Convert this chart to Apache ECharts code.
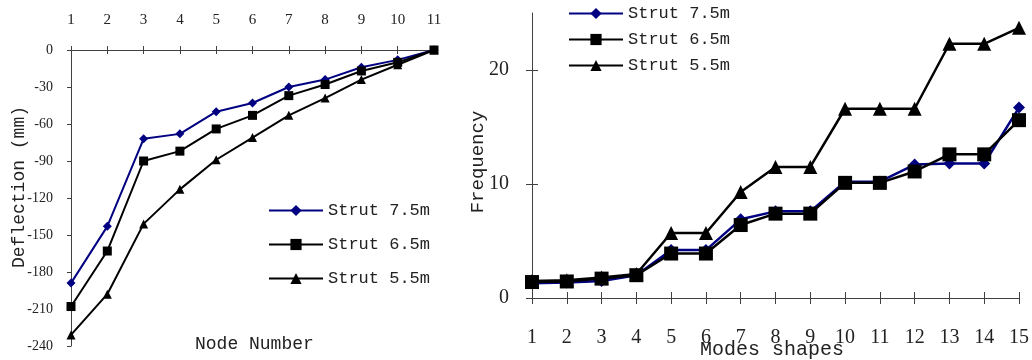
<!DOCTYPE html>
<html><head><meta charset="utf-8">
<script src="https://cdn.jsdelivr.net/npm/echarts@6/dist/echarts.min.js"></script>
<style>html,body{margin:0;padding:0;background:#fff}#c{width:1032px;height:360px}</style>
</head><body><div id="c"></div>
<script>
const nodeLabels = ['1','2','3','4','5','6','7','8','9','10','11'];
const defl75 = [-189, -143, -72, -68, -50, -43, -30, -24, -14, -8, 0];
const defl65 = [-208, -163, -90, -82, -64, -53, -37, -28, -17, -10, 0];
const defl55 = [-231, -198, -141, -113, -89, -71, -53, -39, -24, -12, 0];

const modeLabels = ['1','2','3','4','5','6','7','8','9','10','11','12','13','14','15'];
const freq75 = [1.3, 1.35, 1.5, 2.0, 4.2, 4.2, 6.9, 7.6, 7.6, 10.2, 10.2, 11.7, 11.8, 11.8, 16.7];
const freq65 = [1.4, 1.45, 1.7, 2.0, 3.9, 3.9, 6.4, 7.4, 7.4, 10.1, 10.1, 11.1, 12.6, 12.6, 15.6];
const freq55 = [1.5, 1.55, 1.8, 2.1, 5.7, 5.7, 9.3, 11.5, 11.5, 16.6, 16.6, 16.6, 22.3, 22.3, 23.7];

const seriesNames = ['Strut 7.5m', 'Strut 6.5m', 'Strut 5.5m'];
const leftYTicks = {min: -240, max: 0, interval: 30};
const rightYTicks = [0, 10, 20];

const NAVY = '#000080', BLACK = '#000000', AXIS = '#404040', TXT = '#222';
const SERIF = 'Liberation Serif', MONO = 'Liberation Mono';

const chart = echarts.init(document.getElementById('c'), null, {renderer: 'canvas'});

function catAxis(grid, data, pos, opts) {
  return Object.assign({
    gridIndex: grid, type: 'category', data: data, boundaryGap: false, position: pos,
    axisLine: {show: true, lineStyle: {color: AXIS, width: 1}},
    axisTick: {show: true, length: 4, lineStyle: {color: AXIS}},
    splitLine: {show: false}
  }, opts);
}

const option = {
  animation: false,
  backgroundColor: '#fff',
  grid: [
    {left: 71, top: 50, width: 363, height: 296},
    {left: 532, top: 13, width: 489, height: 285}
  ],
  title: [
    {text: 'Node Number', left: 190, top: 330, padding: 5,
     textStyle: {fontFamily: MONO, fontSize: 18, fontWeight: 'normal', color: TXT}},
    {text: 'Modes shapes', left: 695, top: 335, padding: 5,
     textStyle: {fontFamily: MONO, fontSize: 20, fontWeight: 'normal', color: TXT}}
  ],
  graphic: [
    {type: 'text', x: 19, y: 187, rotation: Math.PI / 2,
     style: {text: 'Deflection (mm)', font: '18px "Liberation Mono"', fill: TXT, align: 'center', verticalAlign: 'middle'}},
    {type: 'text', x: 478, y: 162, rotation: Math.PI / 2,
     style: {text: 'Frequency', font: '19px "Liberation Mono"', fill: TXT, align: 'center', verticalAlign: 'middle'}}
  ],
  legend: [
    {orient: 'vertical', left: 268, top: 202, padding: 0, itemWidth: 54, itemHeight: 14, itemGap: 17,
     data: seriesNames, textStyle: {fontFamily: MONO, fontSize: 17, color: TXT}, selectedMode: false},
    {orient: 'vertical', left: 568, top: 5, padding: 0, itemWidth: 54, itemHeight: 14, itemGap: 9,
     data: seriesNames, textStyle: {fontFamily: MONO, fontSize: 17, color: TXT}, selectedMode: false}
  ],
  xAxis: [
    catAxis(0, nodeLabels, 'top', {
      axisLabel: {margin: 22, fontFamily: SERIF, fontSize: 15, color: TXT}
    }),
    catAxis(0, nodeLabels, 'top', {
      axisLine: {show: false}, axisLabel: {show: false},
      axisTick: {show: true, inside: true, length: 4, lineStyle: {color: AXIS}}
    }),
    catAxis(1, modeLabels, 'bottom', {
      axisTick: {show: true, length: 6, lineStyle: {color: AXIS}},
      axisLabel: {margin: 30, fontFamily: SERIF, fontSize: 20, color: TXT}
    }),
    catAxis(1, modeLabels, 'bottom', {
      axisLine: {show: false}, axisLabel: {show: false},
      axisTick: {show: true, inside: true, length: 6, lineStyle: {color: AXIS}}
    })
  ],
  yAxis: [
    {gridIndex: 0, type: 'value', position: 'left', min: leftYTicks.min, max: leftYTicks.max, interval: leftYTicks.interval,
     axisLine: {show: true, lineStyle: {color: AXIS}},
     axisTick: {show: true, length: 4, lineStyle: {color: AXIS}},
     splitLine: {show: false},
     axisLabel: {margin: 18, fontFamily: SERIF, fontSize: 14, color: TXT}},
    {gridIndex: 1, type: 'value', position: 'left', min: 0, max: 25, interval: 10,
     axisLine: {show: true, lineStyle: {color: AXIS}},
     axisTick: {show: true, length: 6, lineStyle: {color: AXIS}, customValues: rightYTicks},
     splitLine: {show: false},
     axisLabel: {margin: 23, fontFamily: SERIF, fontSize: 20, color: TXT, customValues: rightYTicks}},
    {gridIndex: 1, type: 'value', position: 'left', min: 0, max: 25, interval: 10,
     axisLine: {show: false}, axisLabel: {show: false}, splitLine: {show: false},
     axisTick: {show: true, inside: true, length: 6, lineStyle: {color: AXIS}, customValues: rightYTicks}}
  ],
  series: [
    {name: seriesNames[0], type: 'line', xAxisIndex: 0, yAxisIndex: 0, data: defl75,
     symbol: 'diamond', symbolSize: 9, lineStyle: {color: NAVY, width: 2}, itemStyle: {color: NAVY}},
    {name: seriesNames[1], type: 'line', xAxisIndex: 0, yAxisIndex: 0, data: defl65,
     symbol: 'rect', symbolSize: 9, lineStyle: {color: BLACK, width: 2}, itemStyle: {color: BLACK}},
    {name: seriesNames[2], type: 'line', xAxisIndex: 0, yAxisIndex: 0, data: defl55,
     symbol: 'triangle', symbolSize: 9, lineStyle: {color: BLACK, width: 2}, itemStyle: {color: BLACK}},
    {name: seriesNames[0], type: 'line', xAxisIndex: 2, yAxisIndex: 1, data: freq75,
     symbol: 'diamond', symbolSize: 12, lineStyle: {color: NAVY, width: 2.5}, itemStyle: {color: NAVY}},
    {name: seriesNames[1], type: 'line', xAxisIndex: 2, yAxisIndex: 1, data: freq65,
     symbol: 'rect', symbolSize: 14, lineStyle: {color: BLACK, width: 2.5}, itemStyle: {color: BLACK}},
    {name: seriesNames[2], type: 'line', xAxisIndex: 2, yAxisIndex: 1, data: freq55,
     symbol: 'triangle', symbolSize: 14, lineStyle: {color: BLACK, width: 2.5}, itemStyle: {color: BLACK}}
  ]
};
chart.setOption(option);
</script>
</body></html>
